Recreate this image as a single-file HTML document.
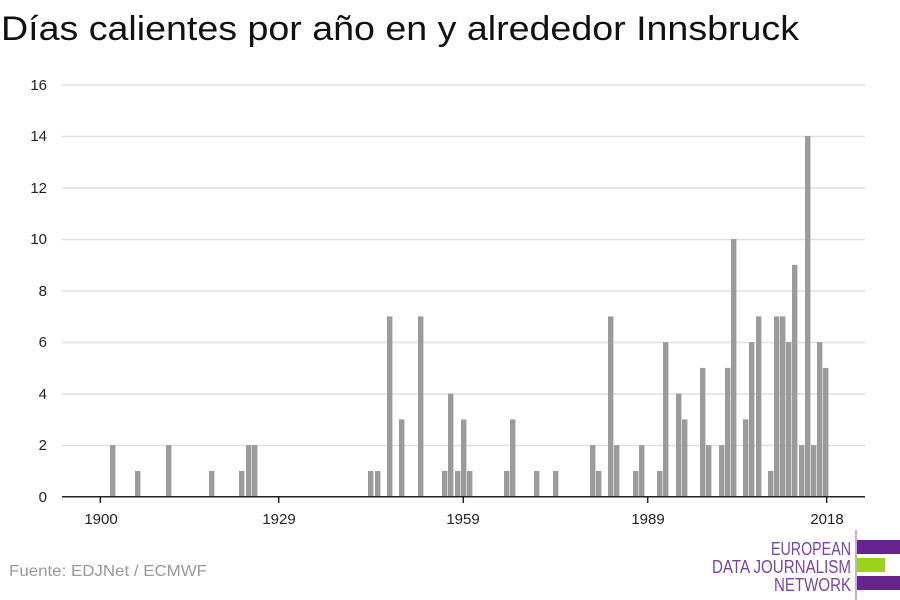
<!DOCTYPE html>
<html><head><meta charset="utf-8"><style>
html,body{margin:0;padding:0;background:#fff;width:900px;height:600px;overflow:hidden}
svg{display:block}
text{font-family:"Liberation Sans",sans-serif}
</style></head><body>
<svg width="900" height="600" viewBox="0 0 900 600">
<text x="1" y="40" font-size="34" fill="#111" textLength="798" lengthAdjust="spacingAndGlyphs">Días calientes por año en y alrededor Innsbruck</text>
<g stroke="#e0e0e0" stroke-width="1.5">
<line x1="62" x2="865" y1="85" y2="85"/><line x1="62" x2="865" y1="136.5" y2="136.5"/>
<line x1="62" x2="865" y1="188" y2="188"/><line x1="62" x2="865" y1="239.5" y2="239.5"/>
<line x1="62" x2="865" y1="291" y2="291"/><line x1="62" x2="865" y1="342.5" y2="342.5"/>
<line x1="62" x2="865" y1="394" y2="394"/><line x1="62" x2="865" y1="445.5" y2="445.5"/>
</g>
<g font-size="15" fill="#222" text-anchor="end" font-family="DejaVu Sans, sans-serif">
<text x="47" y="90">16</text><text x="47" y="141">14</text><text x="47" y="193">12</text>
<text x="47" y="244">10</text><text x="47" y="296">8</text><text x="47" y="347">6</text>
<text x="47" y="399">4</text><text x="47" y="450">2</text><text x="47" y="502">0</text>
</g>
<g fill="#9b9b9b" id="bars"></g>
<line x1="62" x2="865" y1="496.7" y2="496.7" stroke="#222" stroke-width="1.5"/>
<g stroke="#222" stroke-width="1.5">
<line x1="100.3" x2="100.3" y1="497" y2="503"/><line x1="278.7" x2="278.7" y1="497" y2="503"/>
<line x1="463.3" x2="463.3" y1="497" y2="503"/><line x1="647.7" x2="647.7" y1="497" y2="503"/>
<line x1="826.7" x2="826.7" y1="497" y2="503"/>
</g>
<g font-size="15" fill="#222" text-anchor="middle" font-family="DejaVu Sans, sans-serif">
<text x="101" y="524">1900</text><text x="279" y="524">1929</text><text x="463" y="524">1959</text>
<text x="648" y="524">1989</text><text x="827" y="524">2018</text>
</g>
<text x="9" y="576" font-size="16" fill="#999" textLength="198" lengthAdjust="spacingAndGlyphs">Fuente: EDJNet / ECMWF</text>
<line x1="856" x2="856" y1="530" y2="600" stroke="#8a5fb0" stroke-width="1"/>
<rect x="857" y="540" width="43" height="14" fill="#66248c"/>
<rect x="857" y="558" width="28" height="14" fill="#9bd21f"/>
<rect x="857" y="576" width="43" height="14" fill="#66248c"/>
<g font-size="18" fill="#7a45a0" text-anchor="end">
<text x="851" y="555" textLength="80" lengthAdjust="spacingAndGlyphs">EUROPEAN</text>
<text x="851" y="573" textLength="139" lengthAdjust="spacingAndGlyphs">DATA JOURNALISM</text>
<text x="851" y="591" textLength="77" lengthAdjust="spacingAndGlyphs">NETWORK</text>
</g>
</svg>
<script>
var d=[[110,2],[135,1],[166,2],[209,1],[239,1],[246,2],[252,2],[368,1],[375,1],[387,7],[399,3],[418,7],[442,1],[448,4],[455,1],[461,3],[467,1],
[504,1],[510,3],[534,1],[553,1],[590,2],[596,1],[608,7],[614,2],[633,1],[639,2],[657,1],[663,6],[676,4],[682,3],[700,5],[706,2],[719,2],[725,5],[731,10],[743,3],[749,6],[756,7],[768,1],[774,7],[780,7],[786,6],[792,9],[799,2],[805,14],[811,2],[817,6],[823,5]];
var g=document.getElementById('bars'),s='';
d.forEach(function(b){var h=b[1]*25.76;s+='<rect x="'+b[0]+'" y="'+(496.7-h)+'" width="5.4" height="'+h+'"/>';});
g.innerHTML=s;
</script>
</body></html>
